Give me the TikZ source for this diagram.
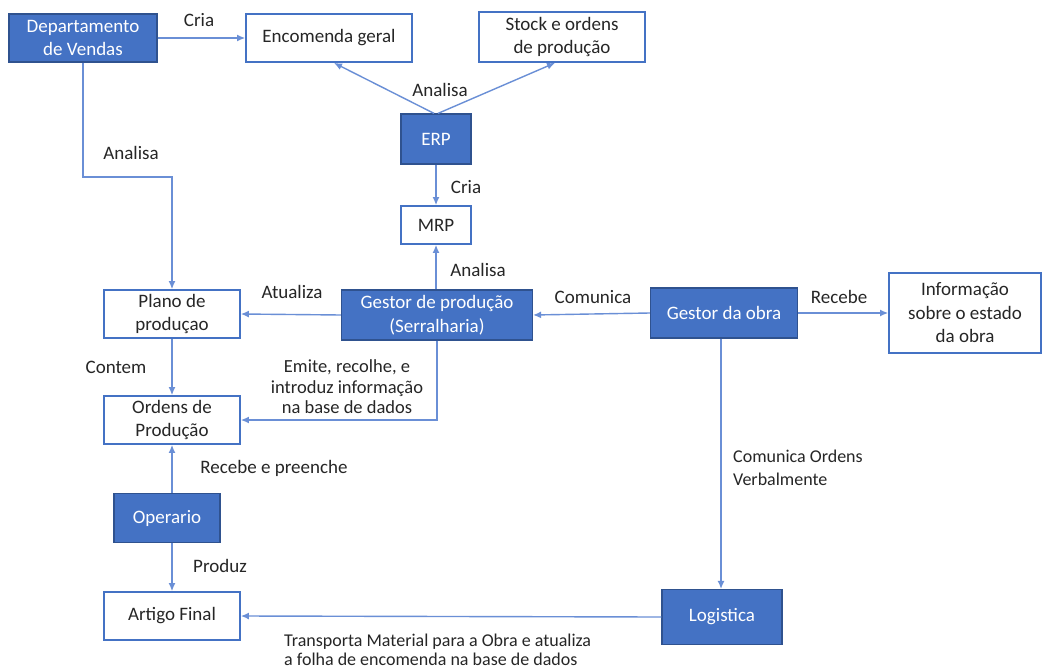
\documentclass[tikz,border=0pt]{standalone}
\usepackage{fontspec}
\setmainfont{Carlito}
\usetikzlibrary{arrows.meta}
\definecolor{boxblue}{HTML}{4472C4}
\definecolor{boxedge}{HTML}{2F528F}
\definecolor{lineblue}{HTML}{6A8FD6}
\definecolor{txt}{HTML}{262626}
\begin{document}
\begin{tikzpicture}[x=1pt,y=-1pt,
  every node/.style={font=\fontsize{19}{23.5}\selectfont, align=center, inner sep=0pt},
  actor/.style={draw=boxedge, line width=1.2pt, fill=boxblue, text=white},
  item/.style={draw=boxblue, line width=1.8pt, fill=white, text=txt},
  lbl/.style={text=txt},
  arr/.style={draw=lineblue, line width=1.4pt, -{Latex[length=8pt,width=7pt]}},
  ln/.style={draw=lineblue, line width=1.4pt}]
\useasboundingbox (0,0) rectangle (1043,671);
\fill[white] (0,0) rectangle (1043,671);

% Boxes
\node[actor, minimum width=148pt, minimum height=48pt] (dv) at (83,38) {Departamento\\de Vendas};
\node[item, minimum width=166pt, minimum height=48pt] (enc) at (329,38) {Encomenda geral};
\node[item, minimum width=166pt, minimum height=50pt] (stock) at (562,37) {Stock e ordens\\de produção};
\node[actor, minimum width=70pt, minimum height=50pt] (erp) at (436,139) {ERP};
\node[item, minimum width=70pt, minimum height=38pt] (mrp) at (436,225) {MRP};
\node[item, minimum width=136pt, minimum height=48pt] (plano) at (172,314) {Plano de\\produçao};
\node[actor, minimum width=191pt, minimum height=50pt] (gp) at (437,315) {Gestor de produção\\(Serralharia)};
\node[actor, minimum width=147pt, minimum height=50pt] (go) at (724,313) {Gestor da obra};
\node[item, minimum width=152pt, minimum height=80pt] (info) at (965,313) {Informação\\sobre o estado\\da obra};
\node[item, minimum width=136pt, minimum height=48pt] (ordens) at (172,420) {Ordens de\\Produção};
\node[actor, minimum width=106pt, minimum height=49pt] (op) at (167,518) {Operario};
\node[item, minimum width=136pt, minimum height=48pt] (artigo) at (172,616) {Artigo Final};
\node[actor, minimum width=120pt, minimum height=55pt] (log) at (722,617) {Logistica};

% Connectors
\draw[arr] (dv.east) -- (enc.west);
\coordinate (dvbend) at (83,177);
\draw[arr] (dv.south) -- (dvbend) -| (plano.north);
\draw[arr] ([xshift=-2pt]erp.north) -- ([xshift=5pt]enc.south);
\draw[arr] ([xshift=2pt]erp.north) -- ([xshift=-7pt]stock.south);
\draw[arr] (erp.south) -- (mrp.north);
\draw[arr] (gp.north -| mrp.south) -- (mrp.south);
\draw[arr] (gp.west) -- (plano.east);
\draw[arr] (go.west) -- (gp.east);
\draw[arr] (go.east) -- (info.west);
\draw[arr] (plano.south) -- (ordens.north);
\draw[arr] (gp.south) |- (ordens.east);
\draw[arr] (op.north -| ordens.south) -- (ordens.south);
\draw[arr] (op.south -| artigo.north) -- (artigo.north);
\draw[arr] ([xshift=-3pt]go.south) -- ([xshift=-1pt]log.north);
\draw[arr] (log.west) -- (artigo.east);

% Connector labels
\node[lbl] (l1) at (199,20) {Cria};
\node[lbl] (l2) at (131,153) {Analisa};
\node[lbl] (l3) at (440,90) {Analisa};
\node[lbl] (l4) at (466,187) {Cria};
\node[lbl] (l5) at (478,270) {Analisa};
\node[lbl] (l6) at (292,292) {Atualiza};
\node[lbl] (l7) at (593,297) {Comunica};
\node[lbl] (l8) at (839,297) {Recebe};
\node[lbl] (l9) at (116,367) {Contem};
\node[lbl, font=\fontsize{18.5}{20.5}\selectfont] (l10) at (347,387) {Emite, recolhe, e\\introduz informação\\na base de dados};
\node[lbl] (l11) at (274,468) {Recebe e preenche};
\node[lbl] (l12) at (220,566) {Produz};
\node[lbl, anchor=west, align=left, font=\fontsize{18}{23}\selectfont] (l13) at (733,468) {Comunica Ordens\\Verbalmente};
\node[lbl, anchor=west, align=left, font=\fontsize{18}{19}\selectfont] (l14) at (284,650) {Transporta Material para a Obra e atualiza\\a folha de encomenda na base de dados};
\end{tikzpicture}
\end{document}
